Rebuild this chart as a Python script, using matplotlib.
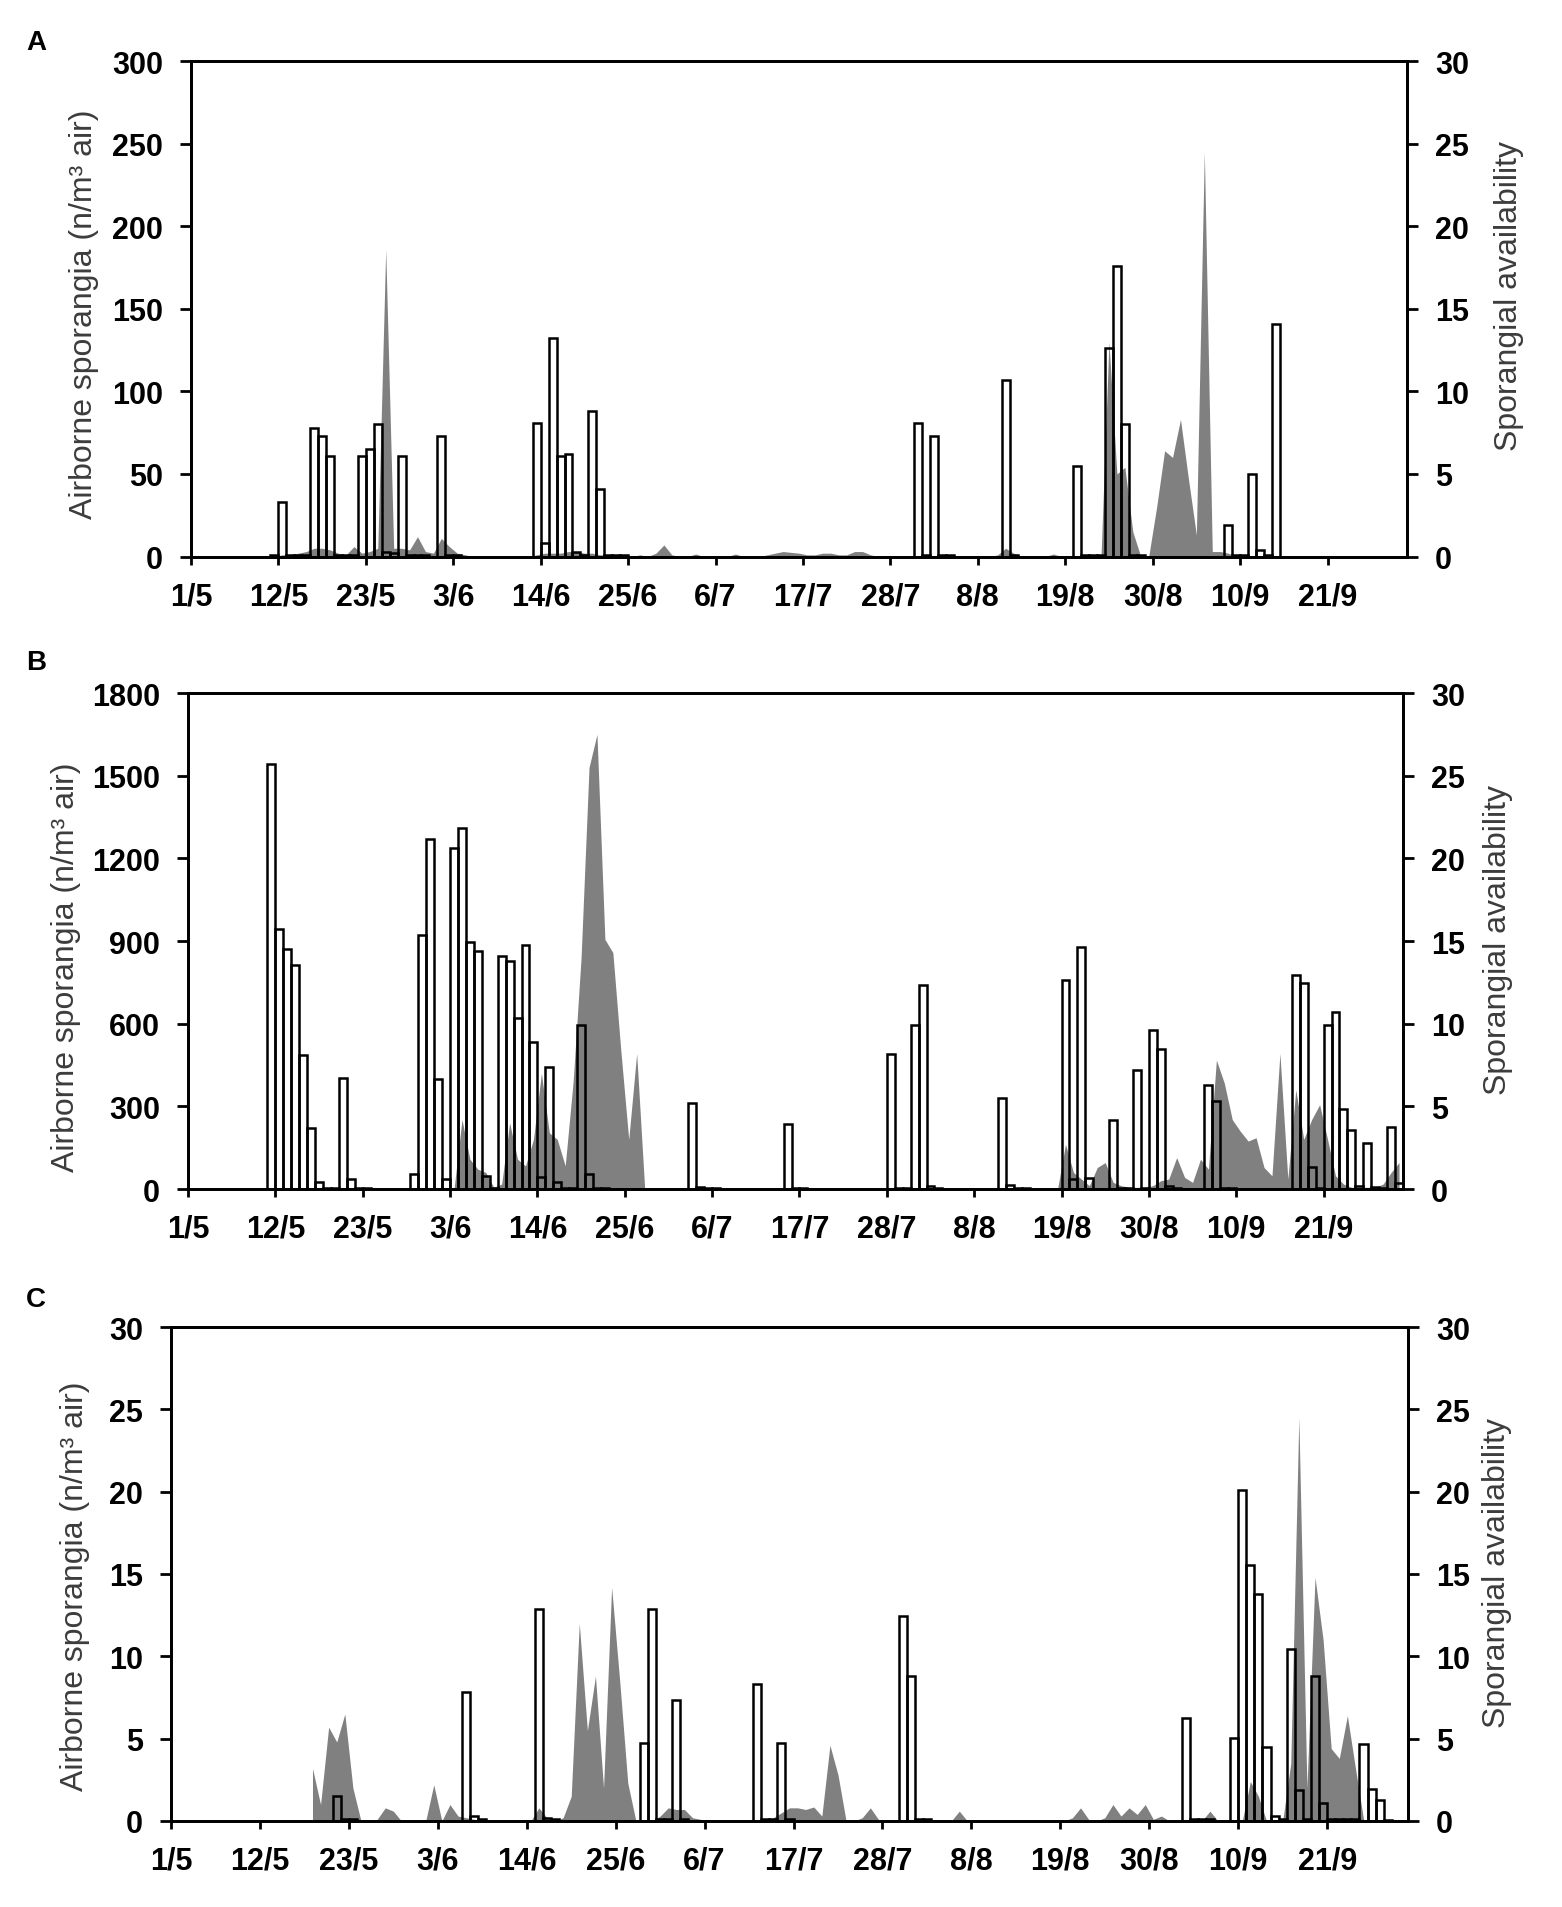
import matplotlib
matplotlib.use('Agg')
import matplotlib.pyplot as plt
import numpy as np

plt.rcParams['font.family'] = ['Liberation Sans', 'DejaVu Sans']

# ---------------- data ----------------
# x positions: days since 1 May
tick_days = [0, 11, 22, 33, 44, 55, 66, 77, 88, 99, 110, 121, 132, 143]
tick_labels = ['1/5', '12/5', '23/5', '3/6', '14/6', '25/6', '6/7', '17/7',
               '28/7', '8/8', '19/8', '30/8', '10/9', '21/9']

# Panel A: airborne sporangia (bars, left axis)
A_bar_days = [10, 11, 12, 13, 14, 15, 16, 17, 18, 19, 20, 21, 22, 23, 24, 25, 26, 27, 28, 29,
              31, 32, 33, 43, 44, 45, 46, 47, 48, 49, 50, 51, 52, 53, 54,
              91, 92, 93, 94, 95, 102, 103, 111, 112, 113, 114, 115, 116, 117, 118, 119,
              130, 131, 132, 133, 134, 135, 136]
A_bar_vals = [1, 33, 1, 1, 1, 78, 73, 61, 1, 1, 1, 61, 65, 80, 3, 2, 61, 1, 1, 1,
              73, 1, 1, 81, 8, 132, 61, 62, 3, 1, 88, 41, 1, 1, 1,
              81, 1, 73, 1, 1, 107, 1, 55, 1, 1, 1, 126, 176, 80, 1, 1,
              19, 1, 1, 50, 4, 1, 141]
# Panel A: sporangial availability (grey area, right axis), daily from day 10
A_avail_start = 10
A_avail = [0, 0.1, 0.1, 0.2, 0.3, 0.5, 0.5, 0.4, 0.2, 0.1,
           0.6, 0.2, 0.3, 0.5, 18.6, 0.5, 0.5, 0.4, 1.2, 0.3,
           0.2, 1.1, 0.6, 0.2, 0.1, 0, 0, 0, 0, 0,
           0, 0, 0, 0.1, 0.2, 0.2, 0.2, 0.3, 0.3, 0.2,
           0.2, 0.1, 0.1, 0, 0, 0, 0.1, 0, 0.2, 0.7,
           0.1, 0, 0, 0.15, 0, 0, 0, 0, 0.15, 0,
           0, 0, 0.1, 0.2, 0.3, 0.25, 0.2, 0.1, 0.1, 0.2,
           0.2, 0.1, 0.1, 0.3, 0.3, 0.1, 0, 0, 0, 0,
           0, 0.05, 0.05, 0, 0, 0, 0, 0, 0, 0,
           0, 0.1, 0.5, 0.2, 0, 0, 0, 0, 0.15, 0,
           0, 0, 0, 0, 0, 13.0, 5.0, 5.4, 1.5, 0,
           0, 3.0, 6.4, 6.0, 8.3, 4.7, 1.3, 24.5, 0.3, 0.3,
           0.2, 0]

# Panel B
B_bar_days = [10, 11, 12, 13, 14, 15, 16, 17, 18, 19, 20, 21, 22,
              28, 29, 30, 31, 32, 33, 34, 35, 36, 37, 38, 39, 40, 41, 42, 43, 44, 45, 46, 47, 48,
              49, 50, 51, 52, 63, 64, 65, 66, 75, 76, 77, 88, 89, 90, 91, 92, 93, 94,
              102, 103, 104, 105, 110, 111, 112, 113, 116, 117, 118, 119, 120, 121, 122, 123, 124,
              128, 129, 130, 131, 139, 140, 141, 142, 143, 144, 145, 146, 147, 148, 149, 150,
              151, 152]
B_bar_vals = [1543, 942, 872, 814, 486, 221, 25, 5, 5, 404, 35, 5, 3,
              53, 921, 1269, 400, 35, 1236, 1311, 896, 864, 46, 5, 844, 826, 622, 885, 532, 42,
              444, 25, 3, 3,
              594, 56, 5, 3, 311, 8, 5, 3, 236, 3, 3, 490, 3, 3, 594, 739, 10, 3,
              330, 15, 3, 3, 757, 36, 878, 39, 250, 3, 3, 433, 3, 578, 508, 10, 3,
              376, 319, 3, 3, 778, 746, 80, 3, 594, 642, 289, 214, 10, 167, 8, 3,
              224, 20]
B_avail1_start = 33
B_avail1 = [0, 4.2, 1.8, 1.2, 1.0, 0.1, 0.3, 4.0, 1.8, 1.4,
            3.0, 7.0, 3.4, 3.0, 1.4, 6.5, 14.0, 25.5, 27.5, 15.1,
            14.3, 8.4, 3.0, 8.2, 0.1]
B_avail2_start = 109
B_avail2 = [0, 2.7, 1.0, 0.6, 0.2, 1.3, 1.6, 0.4, 0.2, 0.1,
            0.1, 0.1, 0.2, 0.5, 0.6, 1.9, 0.7, 0.4, 1.8, 1.2,
            7.8, 6.4, 4.2, 3.5, 2.9, 3.1, 1.3, 0.8, 8.2, 0.6,
            6.0, 3.0, 4.2, 5.1, 3.0, 0.8, 0.3, 0.1, 0.1, 0.1,
            0.1, 0.3, 1.0, 1.6]

# Panel C
C_bar_days = [20, 21, 22, 36, 37, 38, 45, 46, 47, 58, 59, 60, 61, 62, 63, 72, 73, 74, 75, 76,
              90, 91, 92, 93, 125, 126, 127, 128, 131, 132, 133, 134, 135, 136, 137, 138, 139,
              140, 141, 142, 143, 144, 145, 146, 147, 148, 149, 150]
C_bar_vals = [1.53, 0.1, 0.1, 7.85, 0.3, 0.1, 12.85, 0.2, 0.1, 4.74, 12.85, 0.1, 0.1, 7.36, 0.1,
              8.33, 0.1, 0.1, 4.74, 0.1,
              12.46, 8.82, 0.1, 0.1, 6.27, 0.1, 0.1, 0.1, 5.03, 20.1, 15.57, 13.8, 4.47, 0.3, 0.1,
              10.47, 1.87, 0.1, 8.82, 1.09, 0.1, 0.1, 0.1, 0.1, 4.66, 1.92, 1.29, 0.05]
C_avail_start = 17
C_avail = [3.2, 1.0, 5.7, 4.8, 6.5, 2.0, 0, 0, 0.1, 0.8,
           0.6, 0, 0, 0, 0, 2.2, 0, 1.0, 0.3, 0.2,
           0.1, 0, 0, 0, 0, 0, 0, 0, 0.8, 0.2,
           0, 0.2, 1.5, 12.0, 5.5, 8.8, 2.0, 14.2, 8.5, 2.3,
           0, 0, 0, 0.3, 0.8, 0.7, 0.7, 0.2, 0.1, 0,
           0, 0, 0, 0, 0, 0, 0, 0.2, 0.5, 0.8,
           0.8, 0.7, 0.85, 0.3, 4.6, 2.8, 0, 0, 0.2, 0.8,
           0.1, 0, 0, 0, 0, 0, 0, 0, 0, 0,
           0.6, 0, 0, 0, 0, 0, 0, 0, 0, 0,
           0, 0, 0, 0, 0.2, 0.8, 0.1, 0, 0.2, 1.0,
           0.3, 0.8, 0.4, 1.0, 0.1, 0.3, 0, 0, 0, 0,
           0, 0.6, 0, 0, 0, 0, 2.4, 1.5, 0, 0,
           0, 3.5, 24.5, 2.0, 14.8, 11.0, 4.4, 3.8, 6.4, 3.2,
           0.1, 0]

# ---------------- drawing ----------------
W, H = 1562, 1908
fig = plt.figure(figsize=(W / 100, H / 100), dpi=100)

GREY = '#808080'
LABEL_COLOR = '#3c3c3c'
TICK_FS = 22
LABEL_FS = 23


def px_rect(left, right, top, bottom):
    return [left / W, 1 - bottom / H, (right - left) / W, (bottom - top) / H]


def panel(rect, bar_days, bar_vals, avail_segments, lmax, lstep):
    ax = fig.add_axes(rect)
    ax2 = ax.twinx()
    for start, vals in avail_segments:
        x = np.arange(start, start + len(vals)) + 0.5
        ax2.fill_between(x, 0, vals, color=GREY, linewidth=0)
    ax.bar(bar_days, bar_vals, width=1.0, align='edge', facecolor='none',
           edgecolor='black', linewidth=1.8)
    ax.set_zorder(ax2.get_zorder() + 1)
    ax.patch.set_visible(False)

    ax.set_xlim(0, 153)
    ax.set_ylim(0, lmax)
    ax2.set_ylim(0, 30)
    lt = np.arange(0, lmax + 1, lstep)
    ax.set_yticks(lt, labels=[str(int(v)) for v in lt], fontweight='bold', fontsize=TICK_FS)
    rt = np.arange(0, 31, 5)
    ax2.set_yticks(rt, labels=[str(int(v)) for v in rt], fontweight='bold', fontsize=TICK_FS)
    ax.set_xticks(tick_days, labels=tick_labels, fontweight='bold', fontsize=TICK_FS)
    ax.tick_params(axis='y', direction='out', length=8, width=2, pad=12)
    ax2.tick_params(axis='y', direction='out', length=8, width=2, pad=12)
    ax.tick_params(axis='x', direction='out', length=6, width=2, pad=12)
    for a in (ax, ax2):
        for s in a.spines.values():
            s.set_linewidth(2)
            s.set_color('black')
    return ax, ax2


panel(px_rect(191, 1407, 62, 557.5), A_bar_days, A_bar_vals,
      [(A_avail_start, A_avail)], 300, 50)
panel(px_rect(188, 1403, 694, 1190), B_bar_days, B_bar_vals,
      [(B_avail1_start, B_avail1), (B_avail2_start, B_avail2)], 1800, 300)
panel(px_rect(171, 1408, 1328, 1822), C_bar_days, C_bar_vals,
      [(C_avail_start, C_avail)], 30, 5)

left_label = 'Airborne sporangia (n/m\u00b3 air)'
right_label = 'Sporangial availability'
for (lx, ly), (rx, ry) in [((84, 314), (1509, 296)),
                           ((66, 967), (1498, 940)),
                           ((75, 1586), (1497, 1573))]:
    fig.text(lx / W, 1 - ly / H, left_label, rotation=90, ha='center', va='center',
             fontsize=LABEL_FS, color=LABEL_COLOR)
    fig.text(rx / W, 1 - ry / H, right_label, rotation=90, ha='center', va='center',
             fontsize=LABEL_FS, color=LABEL_COLOR)

for letter, (x, y) in zip('ABC', [(36, 43), (36, 663), (36, 1300)]):
    fig.text(x / W, 1 - y / H, letter, ha='center', va='center', fontsize=20,
             fontweight='bold')

fig.savefig('out.png', dpi=100)
